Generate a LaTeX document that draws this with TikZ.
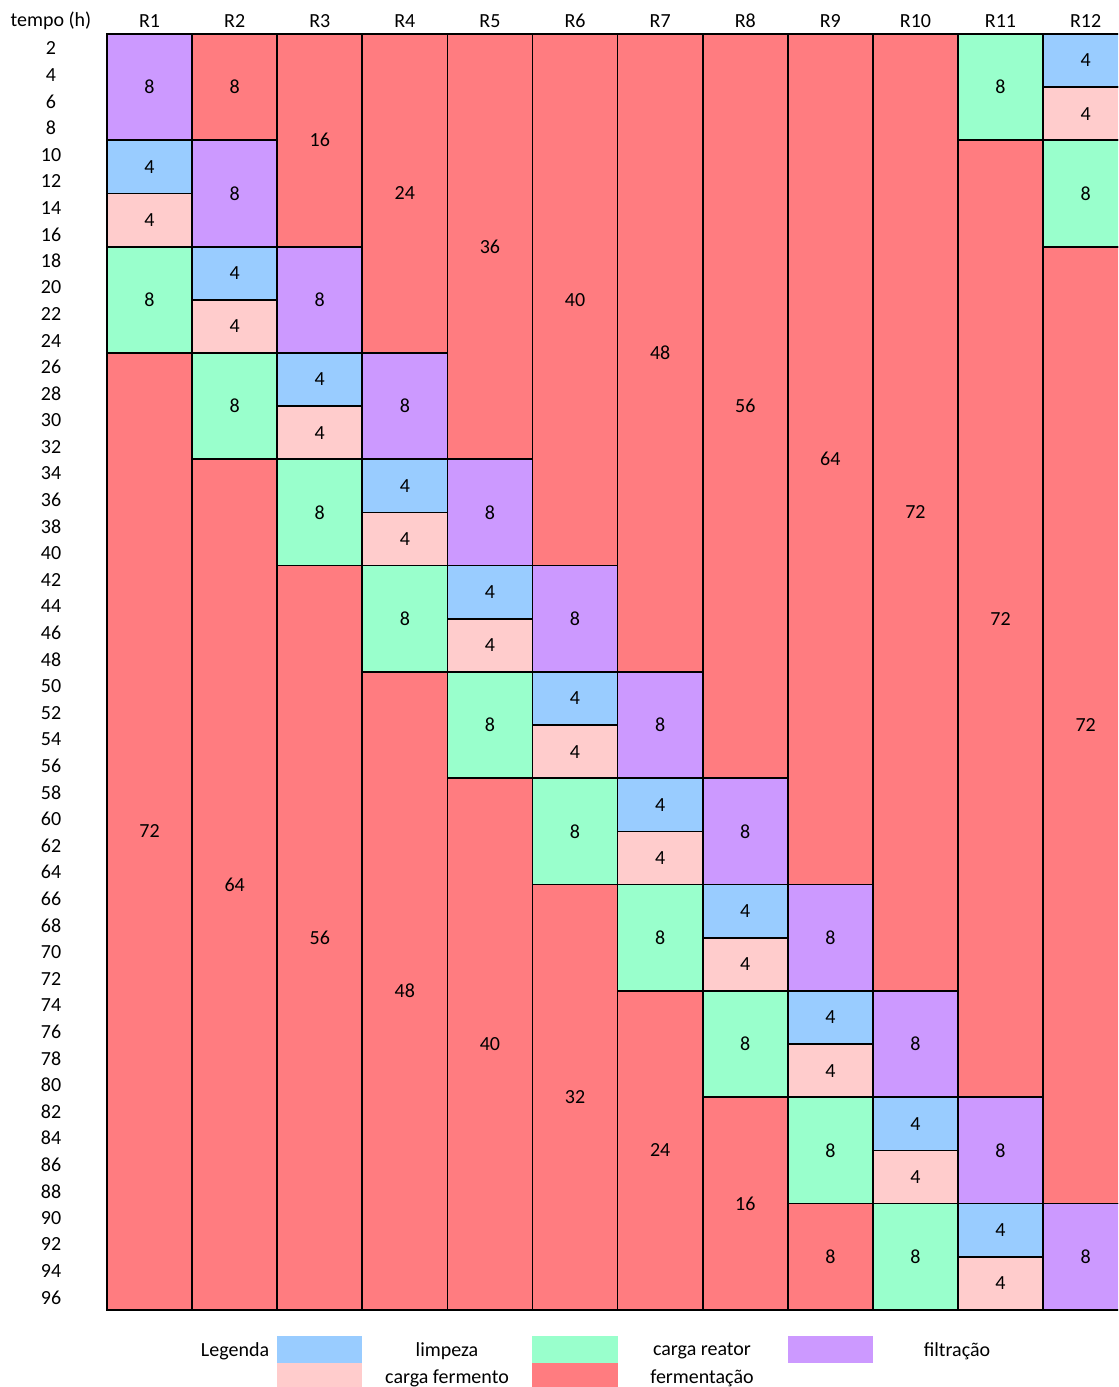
\documentclass[tikz,border=0pt]{standalone}
\usepackage{fontspec}
\setmainfont{Carlito}
\usetikzlibrary{positioning}

\definecolor{li}{HTML}{99CCFF}
\definecolor{cf}{HTML}{FFCCCC}
\definecolor{cr}{HTML}{99FFCC}
\definecolor{fi}{HTML}{CC99FF}
\definecolor{fe}{HTML}{FF7C80}

% one reactor column: type/start/duration/label
\newcommand{\coluna}[2]{\foreach \tp/\ini/\dur/\lab in {#2} {\node[bloco, fill=\tp, minimum height=\dur*9.9675pt] (R#1-\ini) at ({107+(#1-0.5)*85.1},{34+(\ini+\dur/2)*13.29}) {\lab};}}

\begin{document}
\begin{tikzpicture}[x=0.75pt, y=-0.75pt,
  every node/.style={font=\fontsize{15}{17}\selectfont, inner sep=0pt, outer sep=0pt},
  bloco/.style={draw, line width=1.3pt, minimum width=63.825pt},
  chave/.style={minimum width=63.825pt, minimum height=20.25pt}]
\clip (0,0) rectangle (1118,1387);

% cabecalho e eixo do tempo
\node (tempo) at (51,21) {tempo (h)};
\foreach \c in {1,...,12} \node (h\c) at ({107+(\c-0.5)*85.1},21) {R\c};
\foreach \k [evaluate=\k as \hr using int(2*\k)] in {1,...,48} \node (t\hr) at (51,{35+(\k-0.5)*26.58}) {\hr};

% reatores
\coluna{1}{fi/0/8/8, li/8/4/4, cf/12/4/4, cr/16/8/8, fe/24/72/72}
\coluna{2}{fe/0/8/8, fi/8/8/8, li/16/4/4, cf/20/4/4, cr/24/8/8, fe/32/64/64}
\coluna{3}{fe/0/16/16, fi/16/8/8, li/24/4/4, cf/28/4/4, cr/32/8/8, fe/40/56/56}
\coluna{4}{fe/0/24/24, fi/24/8/8, li/32/4/4, cf/36/4/4, cr/40/8/8, fe/48/48/48}
\coluna{5}{fe/0/32/36, fi/32/8/8, li/40/4/4, cf/44/4/4, cr/48/8/8, fe/56/40/40}
\coluna{6}{fe/0/40/40, fi/40/8/8, li/48/4/4, cf/52/4/4, cr/56/8/8, fe/64/32/32}
\coluna{7}{fe/0/48/48, fi/48/8/8, li/56/4/4, cf/60/4/4, cr/64/8/8, fe/72/24/24}
\coluna{8}{fe/0/56/56, fi/56/8/8, li/64/4/4, cf/68/4/4, cr/72/8/8, fe/80/16/16}
\coluna{9}{fe/0/64/64, fi/64/8/8, li/72/4/4, cf/76/4/4, cr/80/8/8, fe/88/8/8}
\coluna{10}{fe/0/72/72, fi/72/8/8, li/80/4/4, cf/84/4/4, cr/88/8/8}
\coluna{11}{cr/0/8/8, fe/8/72/72, fi/80/8/8, li/88/4/4, cf/92/4/4}
\coluna{12}{li/0/4/4, cf/4/4/4, cr/8/8/8, fe/16/72/72, fi/88/8/8}

% legenda
\node (legenda) at (235,1351) {Legenda};
\node[chave, fill=li] (kLi) at (319.5,1349.5) {}; \node[chave, fill=cf] (kCf) at (319.5,1376.5) {};
\node[chave, fill=cr] (kCr) at (575,1349.5) {}; \node[chave, fill=fe] (kFe) at (575,1376.5) {};
\node[chave, fill=fi] (kFi) at (830.5,1349.5) {};
\node (lLi) at (447,1351) {limpeza}; \node (lCf) at (447,1378) {carga fermento};
\node (lCr) at (702,1351) {carga reator}; \node (lFe) at (702,1378) {fermentação};
\node (lFi) at (957,1351) {filtração};
\end{tikzpicture}
\end{document}
